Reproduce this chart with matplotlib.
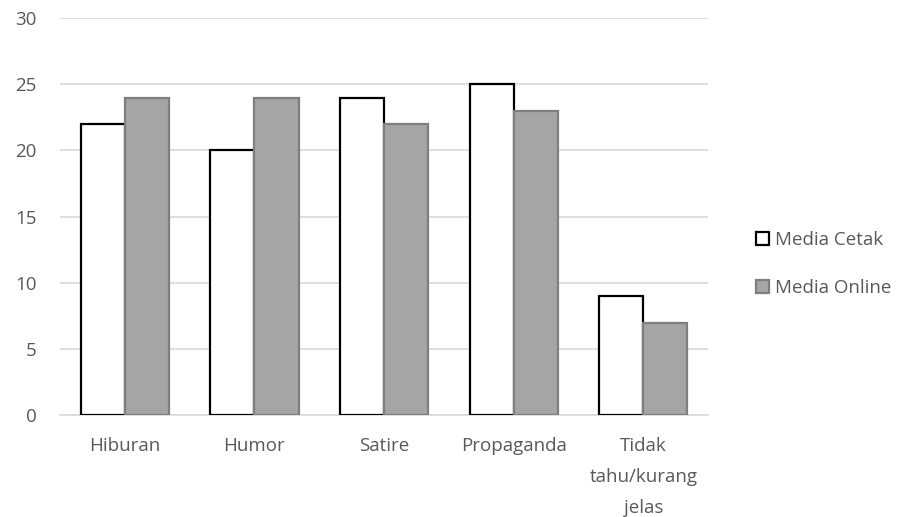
import matplotlib as mpl
import matplotlib.pyplot as plt
import numpy as np

CATEGORIES = ["Hiburan", "Humor", "Satire", "Propaganda", "Tidak\ntahu/kurang\njelas"]
MEDIA_CETAK = [22, 20, 24, 25, 9]
MEDIA_ONLINE = [24, 24, 22, 23, 7]
SERIES_LABELS = ["Media Cetak", "Media Online"]
Y_TICKS = [0, 5, 10, 15, 20, 25, 30]

TEXT_COLOR = "#595959"
GRID_COLOR = "#d9d9d9"

mpl.rcParams.update({"font.family": ["Open Sans", "DejaVu Sans"], "font.size": 13.5})

fig = plt.figure(figsize=(9.09, 5.17), dpi=100)
ax = fig.add_axes([0.066, 0.197, 0.713, 0.768])

x = np.arange(len(CATEGORIES))
width = 0.34
ax.bar(x - width / 2, MEDIA_CETAK, width, color="white", edgecolor="black", linewidth=1.6,
       label=SERIES_LABELS[0], zorder=3)
ax.bar(x + width / 2, MEDIA_ONLINE, width, color="#a5a5a5", edgecolor="#7f7f7f", linewidth=1.6,
       label=SERIES_LABELS[1], zorder=3)

ax.set_xlim(-0.5, len(CATEGORIES) - 0.5)
ax.set_ylim(0, 30)
ax.set_yticks(Y_TICKS)
ax.set_xticks(x)
ax.set_xticklabels(CATEGORIES, color=TEXT_COLOR, linespacing=1.9, va="top")
ax.tick_params(axis="y", colors=TEXT_COLOR, length=0, pad=17)
ax.tick_params(axis="x", colors=TEXT_COLOR, length=0, pad=16)
ax.grid(axis="y", color=GRID_COLOR, linewidth=1.2, zorder=0)
for side in ["left", "right", "top"]:
    ax.spines[side].set_visible(False)
ax.spines["bottom"].set_color(GRID_COLOR)
ax.spines["bottom"].set_linewidth(1.2)

leg = ax.legend(loc="center left", bbox_to_anchor=(1.06, 0.38), frameon=False,
                handlelength=0.7, handleheight=0.7, handletextpad=0.3, labelspacing=1.6,
                borderpad=0)
for t in leg.get_texts():
    t.set_color(TEXT_COLOR)

fig.savefig("out.png", dpi=100, facecolor="white")
